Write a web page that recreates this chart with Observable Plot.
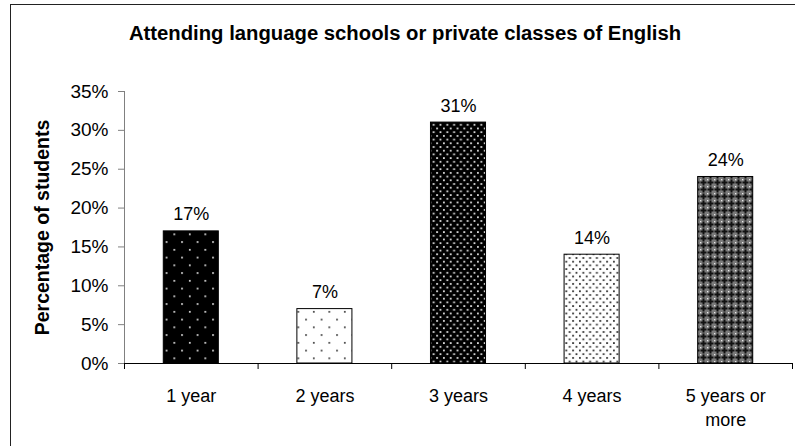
<!DOCTYPE html>
<html>
<head>
<meta charset="utf-8">
<script src="https://cdn.jsdelivr.net/npm/d3@7"></script>
<script src="https://cdn.jsdelivr.net/npm/@observablehq/plot@0.6"></script>
<style>
  html, body { margin: 0; padding: 0; background: #fff; }
  body { width: 795px; height: 446px; overflow: hidden; position: relative; font-family: Arial, "Liberation Sans", sans-serif; }
  #frame { position: absolute; left: 10px; top: 4px; width: 800px; height: 460px; border-left: 1.5px solid #222; border-top: 1.5px solid #222; }
  #title { position: absolute; left: 10px; width: 790px; top: 23px; text-align: center; font-weight: bold; font-size: 20.3px; line-height: 1; color: #000; }
  #chart { position: absolute; left: 0; top: 60px; }
</style>
</head>
<body>
<div id="frame"></div>
<div id="title">Attending language schools or private classes of English</div>
<div id="chart"></div>
<script>
const categories = ["1 year", "2 years", "3 years", "4 years", "5 years or\nmore"];
const values = [17, 7, 31, 14, 24];
const yTicks = [0, 5, 10, 15, 20, 25, 30, 35];
const patternIds = ["url(#pSparseBlack)", "url(#pSparseWhite)", "url(#pDenseBlack)", "url(#pDenseWhite)", "url(#pCross)"];

const data = categories.map((c, i) => ({category: c, index: i, value: values[i], fill: patternIds[i]}));
const halfBar = 0.206;

const plot = Plot.plot({
  width: 795,
  height: 386,
  marginLeft: 124,
  marginRight: 3,
  marginTop: 31,
  marginBottom: 83,
  style: {fontFamily: "Arial, 'Liberation Sans', sans-serif", color: "#000", background: "transparent", overflow: "visible"},
  x: {domain: [0, categories.length]},
  y: {domain: [0, 35]},
  color: {type: "identity"},
  marks: [
    Plot.rectY(data, {x1: d => d.index + 0.5 - halfBar, x2: d => d.index + 0.5 + halfBar, y1: 0, y2: "value", fill: "fill", stroke: "#000", strokeWidth: 1}),
    Plot.ruleX([0], {stroke: "#808080", strokeWidth: 1}),
    Plot.axisY({ticks: yTicks, tickSize: 6, tickPadding: 10, stroke: "#808080", tickFormat: d => d + "%", fontSize: 19, label: null, fill: "#000"}),
    Plot.ruleY([0], {stroke: "#000", strokeWidth: 1}),
    Plot.axisX({ticks: d3.range(categories.length + 1), tickSize: 6, tickFormat: () => "", label: null, stroke: "#000"}),
    Plot.text(data, {x: d => d.index + 0.5, y: 0, text: "category", dy: 21, lineAnchor: "top", lineHeight: 1.35, fontSize: 18, fill: "#000"}),
    Plot.text(data, {x: d => d.index + 0.5, y: "value", text: d => d.value + "%", dy: -11, lineAnchor: "bottom", fontSize: 18, fill: "#000"}),
    Plot.text(["Percentage of students"], {frameAnchor: "left", dx: -82, rotate: -90, fontSize: 19.5, fontWeight: "bold", fill: "#000", textAnchor: "middle", lineAnchor: "middle"})
  ]
});

const defs = `
<defs>
  <pattern id="pSparseBlack" patternUnits="userSpaceOnUse" width="15.5" height="15.5">
    <rect width="15.5" height="15.5" fill="#000"/>
    <rect x="3" y="3" width="1.6" height="1.6" fill="#fff"/>
    <rect x="10.75" y="10.75" width="1.6" height="1.6" fill="#fff"/>
  </pattern>
  <pattern id="pSparseWhite" patternUnits="userSpaceOnUse" width="15.5" height="15.5">
    <rect width="15.5" height="15.5" fill="#fff"/>
    <rect x="3" y="3" width="1.6" height="1.6" fill="#222"/>
    <rect x="10.75" y="10.75" width="1.6" height="1.6" fill="#222"/>
  </pattern>
  <pattern id="pDenseBlack" patternUnits="userSpaceOnUse" width="6.8" height="7.4">
    <rect width="6.8" height="7.4" fill="#000"/>
    <rect x="1" y="1" width="1.8" height="1.8" fill="#ddd"/>
    <rect x="4.4" y="4.7" width="1.8" height="1.8" fill="#ddd"/>
  </pattern>
  <pattern id="pDenseWhite" patternUnits="userSpaceOnUse" width="6.8" height="7.4">
    <rect width="6.8" height="7.4" fill="#fff"/>
    <rect x="1" y="1" width="1.8" height="1.8" fill="#333"/>
    <rect x="4.4" y="4.7" width="1.8" height="1.8" fill="#333"/>
  </pattern>
  <pattern id="pCross" patternUnits="userSpaceOnUse" width="7" height="7">
    <rect width="7" height="7" fill="#7a7a7a"/>
    <rect x="2.5" y="0.5" width="2" height="6" fill="#111"/>
    <rect x="0.5" y="2.5" width="6" height="2" fill="#111"/>
    <rect x="0" y="0" width="1.3" height="1.3" fill="#e8e8e8"/>
  </pattern>
</defs>`;
plot.insertAdjacentHTML("afterbegin", defs);
document.getElementById("chart").appendChild(plot);
</script>
</body>
</html>
